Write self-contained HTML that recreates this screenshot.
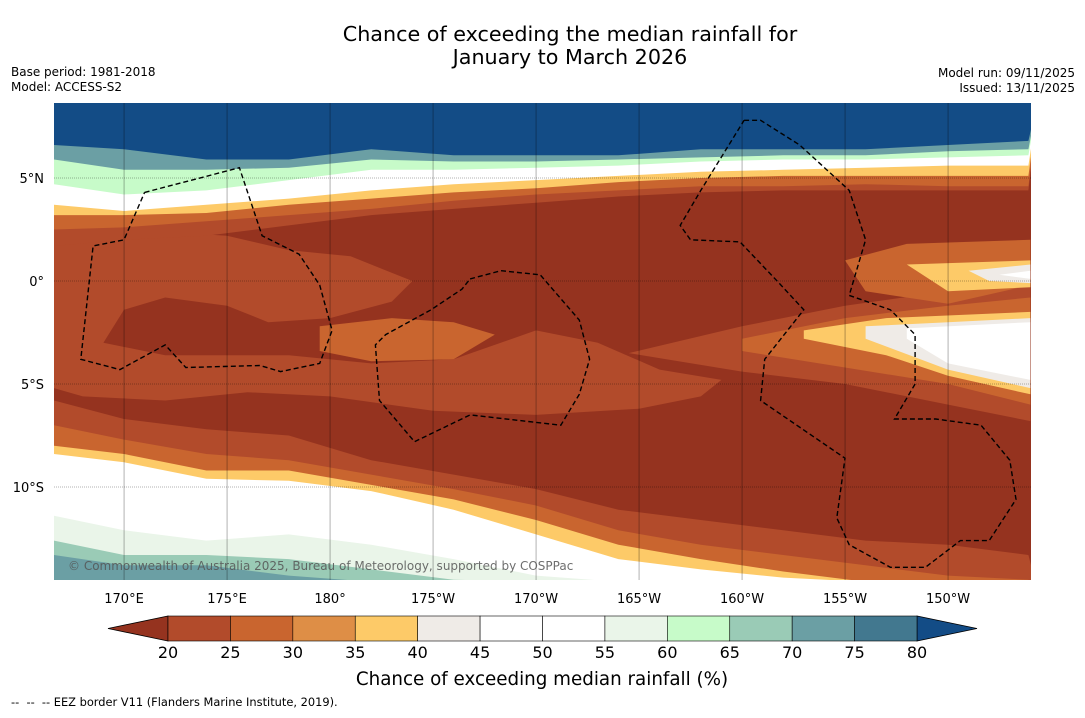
<!DOCTYPE html>
<html><head><meta charset="utf-8">
<style>
body{margin:0;background:#fff;font-family:"Liberation Sans",sans-serif;}
svg text{font-family:"DejaVu Sans","Liberation Sans",sans-serif;}
</style></head>
<body>
<svg id="chart" width="1085" height="713" viewBox="0 0 1085 713" xmlns="http://www.w3.org/2000/svg">
<defs><clipPath id="mapclip"><rect x="54" y="103" width="977" height="477"/></clipPath></defs>
<text x="570" y="41" font-size="20.7" text-anchor="middle">Chance of exceeding the median rainfall for</text>
<text x="570" y="64" font-size="20.7" text-anchor="middle">January to March 2026</text>
<text x="11" y="76" font-size="12">Base period: 1981-2018</text>
<text x="11" y="91" font-size="12">Model: ACCESS-S2</text>
<text x="1075" y="77" font-size="12" text-anchor="end">Model run: 09/11/2025</text>
<text x="1075" y="92" font-size="12" text-anchor="end">Issued: 13/11/2025</text>
<g id="map" clip-path="url(#mapclip)"></g>
<g id="grid"></g>
<g id="eez" clip-path="url(#mapclip)"></g>
<text x="68" y="570" font-size="12" fill="#555" fill-opacity="0.85">© Commonwealth of Australia 2025, Bureau of Meteorology, supported by COSPPac</text>
<g id="xaxis"></g>
<g id="yaxis"></g>
<g id="cbar"></g>
<text x="542" y="685" font-size="18.3" text-anchor="middle">Chance of exceeding median rainfall (%)</text>
<text x="11" y="706" font-size="11.4" xml:space="preserve">--  --  -- EEZ border V11 (Flanders Marine Institute, 2019).</text>
</svg>
<script>
const NS="http://www.w3.org/2000/svg";
// ---- data ----
const lons=[166.6,170,174,178,182,186,190,194,198,202,206,210,213.9];
const nT20=[1.7,2.0,2.2,2.7,3.2,3.5,3.8,4.1,4.3,4.4,4.4,4.4,4.4];
const nT25=[2.5,2.6,2.9,3.2,3.5,3.9,4.2,4.4,4.6,4.6,4.7,4.6,4.6];
const nT35=[3.2,3.2,3.3,3.7,4.0,4.3,4.5,4.8,5.0,5.1,5.1,5.1,5.1];
const nT45=[3.7,3.4,3.7,4.0,4.4,4.7,4.9,5.1,5.3,5.4,5.5,5.6,5.6];
const nT60=[4.7,4.2,4.4,4.9,5.4,5.4,5.5,5.6,5.8,5.9,5.9,6.0,6.1];
const nT70=[5.9,5.4,5.4,5.5,5.9,5.8,5.8,5.9,6.0,6.1,6.1,6.3,6.4];
const nT80=[6.6,6.4,5.9,5.9,6.4,6.1,6.1,6.1,6.4,6.4,6.4,6.6,6.8];
const sT20=[-5.8,-6.7,-7.2,-7.5,-8.7,-9.4,-10.1,-11.1,-11.6,-12.1,-12.6,-12.8,-13.3];
const sT25=[-7.0,-7.7,-8.4,-8.7,-9.4,-10.1,-10.9,-12.1,-12.8,-13.3,-13.8,-14.3,-14.5];
const sT35=[-8.0,-8.4,-9.2,-9.2,-9.9,-10.6,-11.6,-12.8,-13.5,-14.1,-14.6,-14.6,-14.6];
const sT40=[-8.4,-8.8,-9.6,-9.7,-10.2,-11.1,-12.3,-13.5,-14.0,-14.4,-14.6,-14.6,-14.6];
const sT55=[-11.4,-12.1,-12.6,-12.3,-12.8,-13.5,-14.3,-14.6,-14.6,-14.6,-14.6,-14.6,-14.6];
const sT65=[-12.6,-13.3,-13.3,-13.5,-14.0,-14.5,-14.6,-14.6,-14.6,-14.6,-14.6,-14.6,-14.6];
const sT70=[-13.3,-13.8,-13.8,-14.3,-14.6,-14.6,-14.6,-14.6,-14.6,-14.6,-14.6,-14.6,-14.6];
const patchMidLon=[166.6,170,175,178,181,184,183,180,177,175,172,170,169,172,178,182,186,190,193,196,199,198,195,190,185,180,176,172,168,166.6];
const patchMidLat=[1.8,2.5,2.2,1.5,1.2,0,-1,-1.8,-2,-1.2,-0.8,-1.4,-3,-3.6,-3.6,-4,-3.8,-2.4,-3,-4.3,-4.8,-5.6,-6.2,-6.5,-6.3,-5.6,-5.4,-5.8,-5.6,-5.2];
const stripeLon=[179.5,183,186,188,186,182,179.5];
const stripeLat=[-2.2,-1.8,-2,-2.6,-3.8,-3.9,-3.4];
const wedgeLon=[[194.5,200,205,210,214,214,210,205,200],[200,205,210,214,214,210,205,200],[203,207,214,214,210,207,203],[206,210,214,214,210,206],[208,214,214,210,208]];
const wedgeLat=[[-3.5,-2.2,-1.2,-0.5,0,-6.8,-6,-5,-4.4],[-2.8,-1.8,-1.2,-0.8,-6,-5,-4.2,-3.4],[-2.4,-1.8,-1.5,-5.5,-4.6,-3.6,-2.8],[-2.2,-2,-1.8,-5.2,-4.3,-2.8],[-2.3,-2,-4.8,-4,-2.8]];
const blobLon=[[205,208,214,214,210,206],[208,214,214,210],[211,214,214,212],[212.5,214,214]];
const blobLat=[[1,1.8,2,-0.2,-1.1,-0.5],[0.8,1,-0.3,-0.5],[0.5,0.8,-0.1,0],[0.3,0.5,0.1]];
const eezLon=[[171.0,175.6,176.7,178.5,179.5,180.1,179.5,177.6,176.6,173.0,172.0,169.8,167.9,168.5,170.0,171.0],
[186.8,188.3,190.2,192.1,192.6,192.1,191.2,186.8,184.1,182.4,182.2,182.7,184.9,186.4,186.8],
[200.1,200.9,202.8,205.2,206.0,205.2,207.2,208.4,208.4,207.4,209.4,211.6,213.0,213.3,212.0,210.6,208.9,207.2,205.2,204.6,205.0,200.9,201.1,203.0,201.8,199.9,197.5,197.0,198.0,200.1]];
const eezLat=[[4.3,5.5,2.2,1.3,-0.2,-2.4,-4.0,-4.4,-4.1,-4.2,-3.1,-4.3,-3.8,1.7,2.0,4.3],
[0.1,0.5,0.3,-1.9,-3.8,-5.5,-7.0,-6.5,-7.8,-5.8,-3.1,-2.6,-1.4,-0.4,0.1],
[7.8,7.8,6.6,4.4,2.0,-0.7,-1.4,-2.6,-5.0,-6.7,-6.7,-7.0,-8.7,-10.6,-12.6,-12.6,-13.9,-13.9,-12.8,-11.5,-8.6,-5.8,-3.8,-1.4,-0.1,1.9,2.0,2.7,4.4,7.8]];
const xTickLon=[170,175,180,185,190,195,200,205,210];
const xTickLabels=["170°E","175°E","180°","175°W","170°W","165°W","160°W","155°W","150°W"];
const yTickLat=[5,0,-5,-10];
const yTickLabels=["5°N","0°","5°S","10°S"];
const cbLevels=[20,25,30,35,40,45,50,55,60,65,70,75,80];
const cbColors=["#b24b2b","#c9652f","#de8e46","#fdca68","#efebe7","#ffffff","#ffffff","#eaf5e9","#c7fbc9","#9acbb6","#6b9fa4","#42788f"];
const cbUnder="#95331f", cbOver="#134c86";
// ---- axes ----
const X=lon=>54+(lon-166.6)*20.6;
const Y=lat=>281-lat*20.6;
function el(tag,attrs,parent){const e=document.createElementNS(NS,tag);for(const k in attrs)e.setAttribute(k,attrs[k]);parent.appendChild(e);return e;}
function poly(lo,la){return lo.map((v,i)=>X(v).toFixed(1)+","+Y(la[i]).toFixed(1)).join(" ");}
const map=document.getElementById("map");
const bg=el("rect",{x:54,y:103,width:977,height:477,fill:cbUnder},map);


function bandTop(arr,color,name){
  const pts=lons.map((l,i)=>X(l).toFixed(1)+","+Y(arr[i]).toFixed(1));
  const p=el("polygon",{points:"40,90 "+pts.join(" ")+" 1040,90",fill:color},map);
  
  
}
function bandBot(arr,color,name){
  const pts=lons.map((l,i)=>X(l).toFixed(1)+","+Y(arr[i]).toFixed(1));
  const p=el("polygon",{points:"40,600 "+pts.join(" ")+" 1040,600",fill:color},map);
  
  
}
function patch(lo,la,color,name){
  const p=el("polygon",{points:poly(lo,la),fill:color},map);
  
  
}
patch(patchMidLon,patchMidLat,"#b24b2b","central-patch-20");
patch(stripeLon,stripeLat,"#c9652f","central-stripe-25");
bandTop(nT20,"#b24b2b","north-band-20");
bandTop(nT25,"#c9652f","north-band-25");
bandTop(nT35,"#fdca68","north-band-35");
bandTop(nT45,"#ffffff","north-band-45");
bandTop(nT60,"#c7fbc9","north-band-60");
bandTop(nT70,"#6b9fa4","north-band-70");
bandTop(nT80,"#134c86","north-band-80");
bandBot(sT20,"#b24b2b","south-band-20");
bandBot(sT25,"#c9652f","south-band-25");
bandBot(sT35,"#fdca68","south-band-35");
bandBot(sT40,"#ffffff","south-band-40");
bandBot(sT55,"#eaf5e9","south-band-55");
bandBot(sT65,"#9acbb6","south-band-65");
bandBot(sT70,"#6b9fa4","south-band-70");
const wc=["#b24b2b","#c9652f","#fdca68","#efebe7","#ffffff"];
wedgeLon.forEach((lo,i)=>patch(lo,wedgeLat[i],wc[i],"east-wedge-"+i));
blobLon.forEach((lo,i)=>patch(lo,blobLat[i],wc[i+1],"east-blob-"+i));
const grid=document.getElementById("grid");
xTickLon.forEach(l=>{const g=el("line",{x1:X(l),x2:X(l),y1:103,y2:580,stroke:"#000","stroke-width":0.5,"stroke-opacity":0.6},grid);

});
yTickLat.forEach(l=>{const g=el("line",{x1:54,x2:1031,y1:Y(l),y2:Y(l),stroke:"#000","stroke-width":0.5,"stroke-opacity":0.6,"stroke-dasharray":"1,1"},grid);

});
const eez=document.getElementById("eez");
eezLon.forEach((lo,i)=>{const p=el("polyline",{points:poly(lo,eezLat[i]),fill:"none",stroke:"#000","stroke-width":1.4,"stroke-dasharray":"5,3"},eez);

});
const xa=document.getElementById("xaxis");
xTickLon.forEach((l,i)=>{const t=el("text",{x:X(l),y:603,"font-size":13,"text-anchor":"middle"},xa);t.textContent=xTickLabels[i];

});
const ya=document.getElementById("yaxis");
yTickLat.forEach((l,i)=>{const t=el("text",{x:44,y:Y(l)+5,"font-size":13,"text-anchor":"end"},ya);t.textContent=yTickLabels[i];

});
const cb=document.getElementById("cbar");
const cx0=168,cx1=917,cy=616,ch=25,seg=(cx1-cx0)/(cbLevels.length-1);
const CX=v=>cx0+(v-cbLevels[0])*seg/5;
const tl=el("polygon",{points:`108,${cy+ch/2} ${cx0},${cy} ${cx0},${cy+ch}`,fill:cbUnder,stroke:"#000","stroke-width":0.8},cb);


const tr=el("polygon",{points:`977,${cy+ch/2} ${cx1},${cy} ${cx1},${cy+ch}`,fill:cbOver,stroke:"#000","stroke-width":0.8},cb);


cbColors.forEach((c,i)=>{const r=el("rect",{x:CX(cbLevels[i]),y:cy,width:seg,height:ch,fill:c,stroke:"#000","stroke-width":0.6},cb);

});
cbLevels.forEach(v=>{const t=el("text",{x:CX(v),y:658,"font-size":16,"text-anchor":"middle"},cb);t.textContent=v;

});
</script>
</body></html>
